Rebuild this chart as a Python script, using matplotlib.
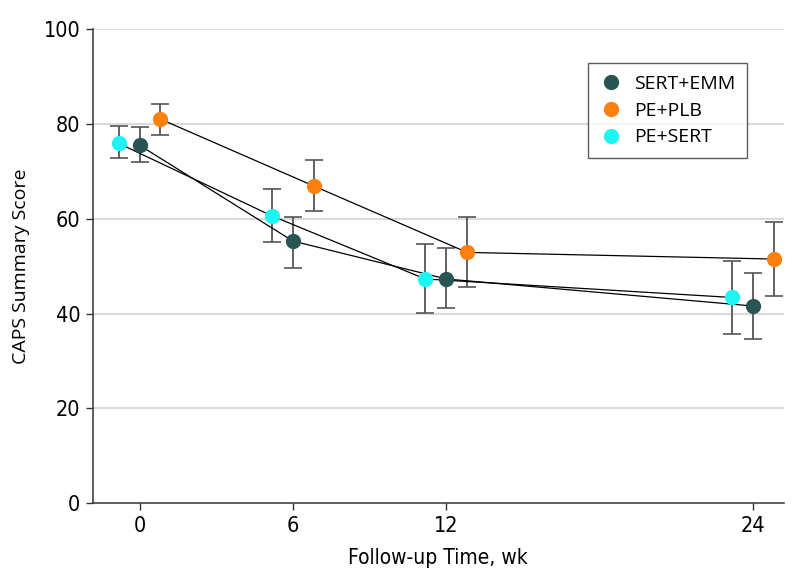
import numpy as np
import matplotlib
matplotlib.use("Agg")
import matplotlib.pyplot as plt
from matplotlib import font_manager
from matplotlib.lines import Line2D

# follow-up weeks
weeks = [0, 6, 12, 24]
groups = ["SERT+EMM", "PE+PLB", "PE+SERT"]

# mean CAPS score with lower / upper bound of the error bars
sert_emm_mean = [75.5, 55.3, 47.3, 41.6]
sert_emm_lo = [71.9, 49.6, 41.1, 34.7]
sert_emm_hi = [79.3, 60.3, 53.8, 48.6]

pe_plb_mean = [81.0, 66.9, 52.9, 51.5]
pe_plb_lo = [77.7, 61.6, 45.6, 43.7]
pe_plb_hi = [84.2, 72.4, 60.3, 59.4]

pe_sert_mean = [75.9, 60.6, 47.3, 43.4]
pe_sert_lo = [72.7, 55.0, 40.2, 35.7]
pe_sert_hi = [79.5, 66.2, 54.6, 51.0]

yticks = [0, 20, 40, 60, 80, 100]

colors = {"SERT+EMM": "#285553", "PE+PLB": "#fb800f", "PE+SERT": "#1ef4f4"}
dodge = {"SERT+EMM": 0.0, "PE+PLB": 0.82, "PE+SERT": -0.82}
series = {
    "SERT+EMM": (sert_emm_mean, sert_emm_lo, sert_emm_hi),
    "PE+PLB": (pe_plb_mean, pe_plb_lo, pe_plb_hi),
    "PE+SERT": (pe_sert_mean, pe_sert_lo, pe_sert_hi),
}

# condensed face for ticks / x label
names = {f.name for f in font_manager.fontManager.ttflist}
if "Liberation Sans Narrow" in names:
    narrow = font_manager.FontProperties(family="Liberation Sans Narrow", size=16)
    narrow_lbl = font_manager.FontProperties(family="Liberation Sans Narrow", size=16)
else:
    narrow = font_manager.FontProperties(family="DejaVu Sans", stretch="condensed", size=15.5)
    narrow_lbl = font_manager.FontProperties(family="DejaVu Sans", stretch="condensed", size=15)
plain = ["Open Sans", "DejaVu Sans"]

fig = plt.figure(figsize=(7.94, 5.88), dpi=100)
ax = fig.add_axes([0.1168, 0.144, 0.8706, 0.8067])

for name in groups:
    m, lo, hi = (np.array(v) for v in series[name])
    x = np.array(weeks) + dodge[name]
    ax.plot(x, m, color="black", lw=0.9, zorder=3)
    ax.errorbar(x, m, yerr=[m - lo, hi - m], fmt="none", ecolor="#555555",
                elinewidth=1.3, capsize=6.5, capthick=1.2, zorder=2)
    ax.plot(x, m, "o", color=colors[name], markersize=11, markeredgewidth=0, zorder=4)

ax.set_xlim(-1.83, 25.22)
ax.set_ylim(0, 100)
ax.set_xticks(weeks)
ax.set_yticks(yticks)
ax.set_xticklabels([str(w) for w in weeks], fontproperties=narrow)
ax.set_yticklabels([str(t) for t in yticks], fontproperties=narrow)
ax.tick_params(length=5, width=1, color="#333333", pad=4)

for t in yticks[1:]:
    ax.axhline(t, color="#dadada", lw=1.5, zorder=0)

for s in ["top", "right"]:
    ax.spines[s].set_visible(False)
for s in ["left", "bottom"]:
    ax.spines[s].set_color("#333333")
    ax.spines[s].set_linewidth(1.1)

ax.set_xlabel("Follow-up Time, wk", fontproperties=narrow_lbl, labelpad=9)
ax.set_ylabel("CAPS Summary Score", family=plain, fontsize=14, labelpad=10)

handles = [Line2D([], [], marker="o", ls="none", color=colors[g], markersize=11,
                  markeredgewidth=0) for g in groups]
leg = ax.legend(handles, groups, loc="upper right", bbox_to_anchor=(0.947, 0.928),
                frameon=True, fancybox=False, prop={"family": plain, "size": 14},
                handletextpad=0.6, borderpad=0.6, labelspacing=0.45, handlelength=1.2,
                borderaxespad=0)
leg.get_frame().set_edgecolor("#333333")
leg.get_frame().set_linewidth(1.0)

fig.savefig("out.png", dpi=100)
